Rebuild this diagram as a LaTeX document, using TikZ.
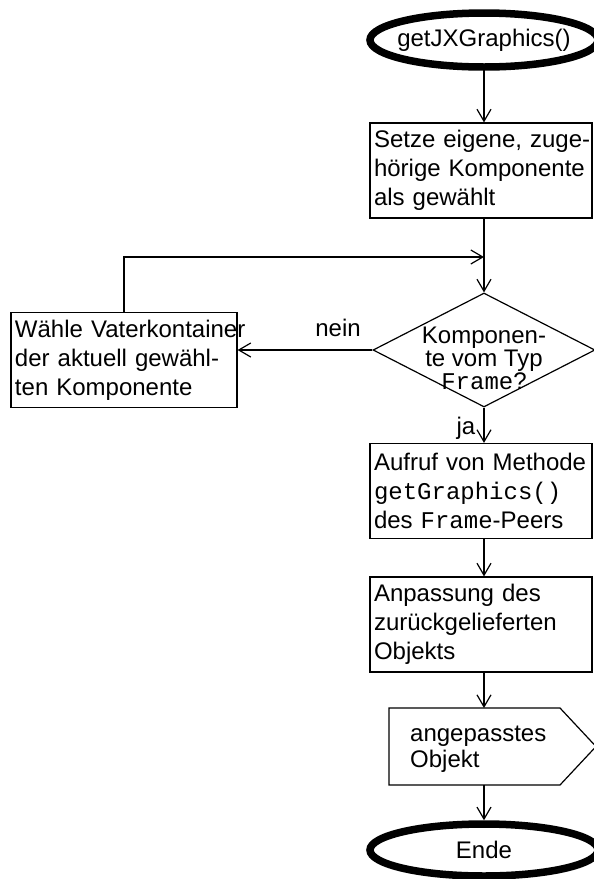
\documentclass[tikz,border=0pt]{standalone}
\usepackage{fontspec}
\setmainfont{Liberation Sans}
\setmonofont{Liberation Mono}
\usetikzlibrary{arrows.meta,shapes.geometric}
% one unbreakable line of box text
\newcommand\boxline[1]{\mbox{#1}}
\tikzset{
  every node/.style={font=\fontsize{24pt}{29pt}\selectfont},
  flowline/.style={line width=1.2pt},
  arr/.style={flowline, -{Straight Barb[length=12pt,width=14pt,line width=1.2pt]}},
  terminal/.style={draw, ellipse, line width=7.5pt, minimum width=228pt, minimum height=#1, inner sep=0pt},
  procbox/.style={draw, rectangle, flowline, text width=#1, inner xsep=4pt, inner ysep=0pt,
    align=left, minimum height=95pt},
  decision/.style={draw, diamond, flowline, minimum width=222pt, minimum height=114pt, inner sep=0pt},
  tag/.style={inner sep=0pt},
}
\begin{document}
\begin{tikzpicture}[x=1pt,y=-1pt]
  \path[use as bounding box, fill=white] (0,0) rectangle (594,879);
  \coordinate (axis) at (484,0);

  % start terminal
  \node[terminal=54pt] (start) at (484,40) {\makebox[0pt]{getJXGraphics()}};

  % process steps
  \node[procbox=214pt] (box1) at (481,170.5)
    {\boxline{Setze eigene, zuge-}\\\boxline{hörige Komponente}\\\boxline{als gewählt}};
  \node[procbox=218pt] (lbox) at (124,360)
    {\boxline{Wähle Vaterkontainer}\\\boxline{der aktuell gewähl-}\\\boxline{ten Komponente}};
  \node[procbox=214pt] (box3) at (481,491)
    {\boxline{Aufruf von Methode}\\\boxline{\texttt{getGraphics()}}\\\boxline{des \texttt{Frame}-Peers}};
  \node[procbox=214pt] (box4) at (481,624.5)
    {\boxline{Anpassung des}\\\boxline{zurückgelieferten}\\\boxline{Objekts}};

  % decision
  \node[decision] (dia) at (484,350) {};
  \node[tag, align=center, font=\fontsize{24pt}{23pt}\selectfont] (diatext) at (484,358)
    {Komponen-\\te vom Typ\\\texttt{Frame}?};

  % output symbol
  \coordinate (outtop) at (484,708);
  \coordinate (outbot) at (484,785);
  \draw[flowline] (389,708) -- (560,708) -- (596,746.5) -- (560,785) -- (389,785) -- cycle;
  \node[tag, anchor=west, align=left, font=\fontsize{24pt}{26pt}\selectfont] (outtext)
    at (410,749.5) {angepasstes\\Objekt};

  % end terminal
  \node[terminal=52pt] (stop) at (484,850) {\makebox[0pt]{Ende}};

  % connectors
  \coordinate (join) at (484,257);
  \draw[arr] (start.south) -- (box1.north -| axis);
  \draw[arr] (box1.south -| axis) -- (dia.north);
  \draw[arr] (lbox.north) |- (join);
  \draw[arr] (dia.west) -- (dia.west -| lbox.east);
  \draw[arr] (dia.south) -- (box3.north -| axis);
  \draw[arr] (box3.south -| axis) -- (box4.north -| axis);
  \draw[arr] (box4.south -| axis) -- (outtop);
  \draw[arr] (outbot) -- (stop.north);

  % branch labels
  \node[tag] (nein) at (338,328) {nein};
  \node[tag] (ja) at (466,428) {ja};
\end{tikzpicture}
\end{document}
